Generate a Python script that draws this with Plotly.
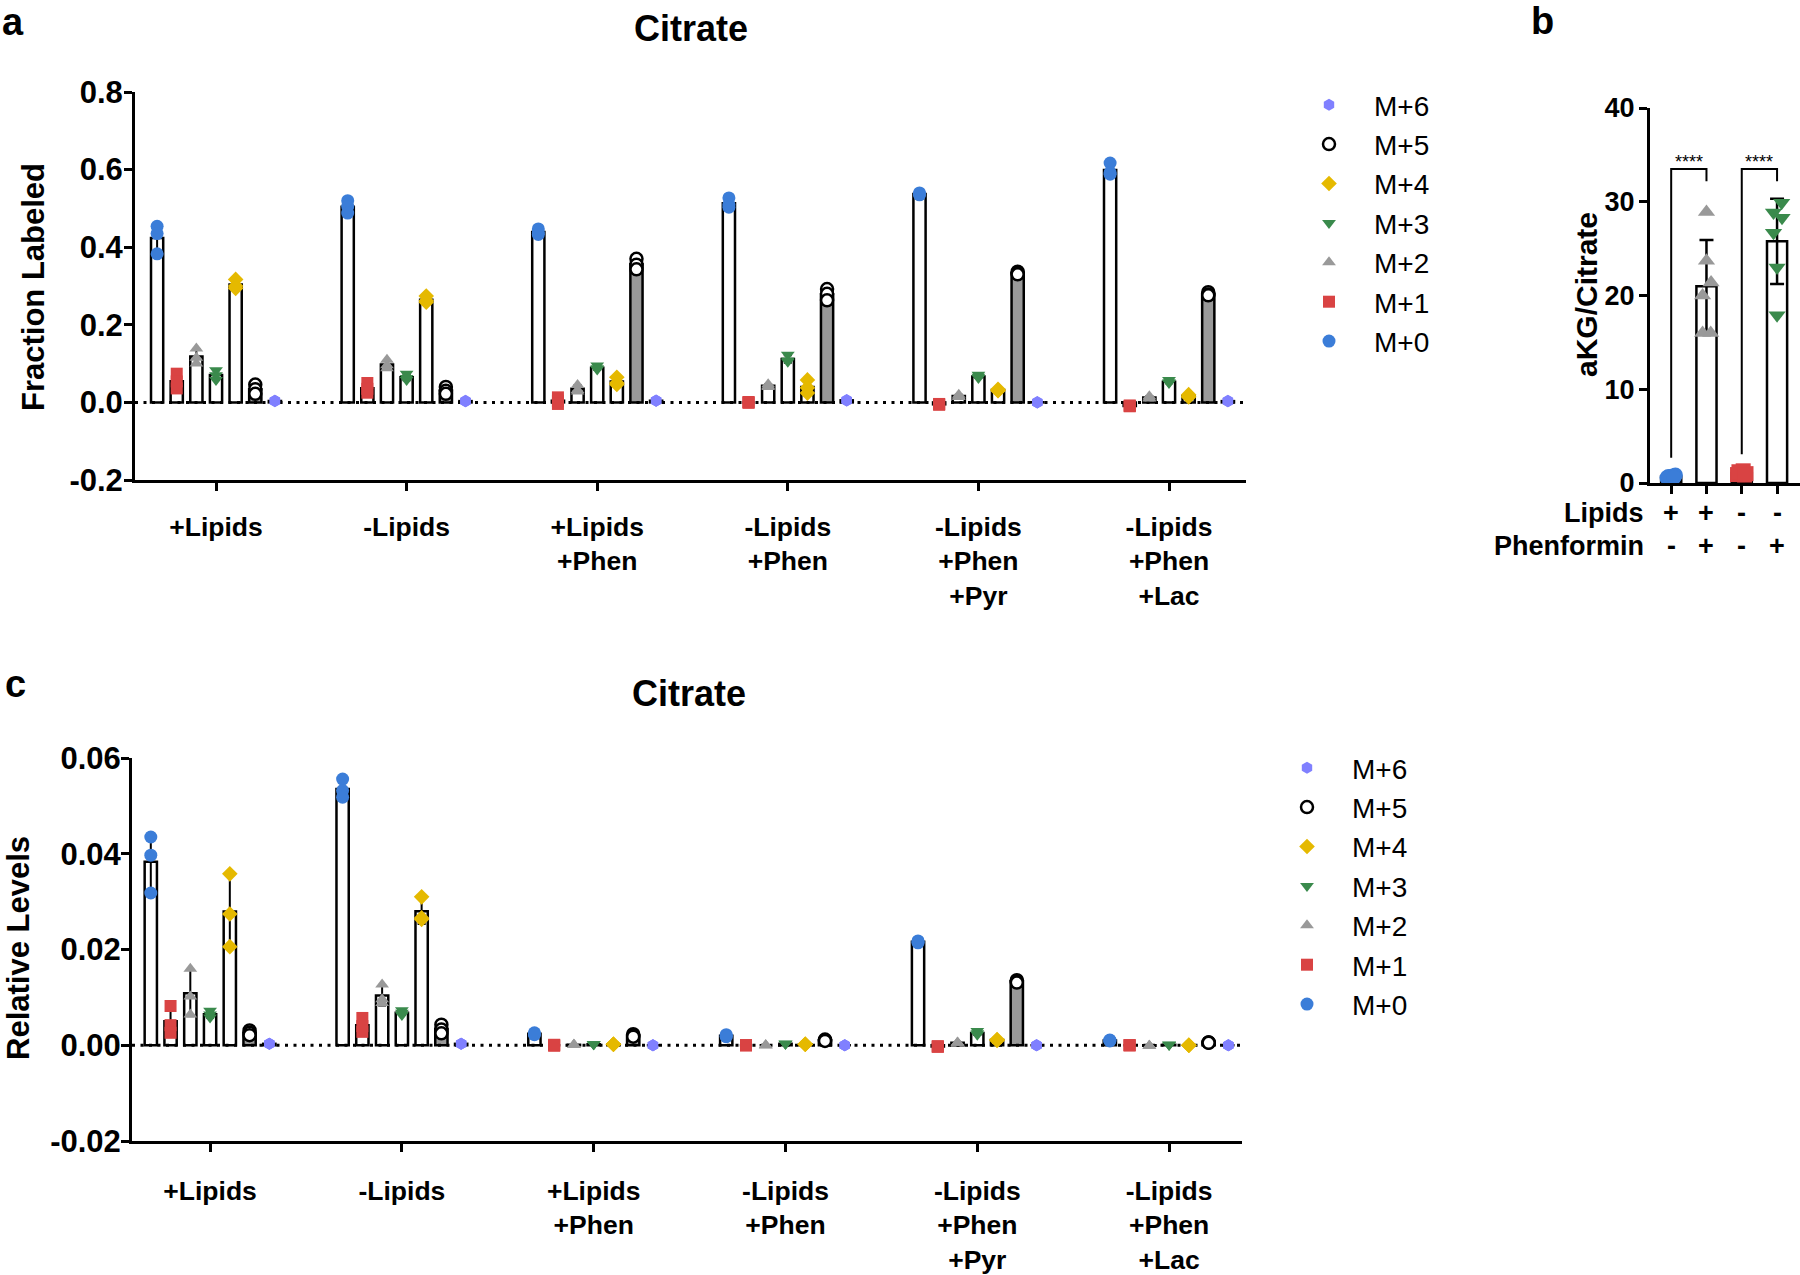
import numpy as np
import plotly.graph_objects as go

W, H = 1800, 1275

# ---------------- data ----------------
isotopologues = ["M+0", "M+1", "M+2", "M+3", "M+4", "M+5", "M+6"]
conditions = ["+Lipids", "-Lipids", "+Lipids<br>+Phen", "-Lipids<br>+Phen",
              "-Lipids<br>+Phen<br>+Pyr", "-Lipids<br>+Phen<br>+Lac"]

# Panel a: fraction labeled, 3 replicates per condition
frac_m0 = [[0.454, 0.435, 0.383], [0.520, 0.505, 0.488], [0.447, 0.437, 0.433],
           [0.527, 0.510, 0.503], [0.540, 0.537, 0.535], [0.617, 0.592, 0.588]]
frac_m1 = [[0.074, 0.054, 0.036], [0.050, 0.035, 0.025], [0.013, 0.004, -0.004],
           [0.001, -0.001, 0.000], [-0.004, -0.006, -0.005], [-0.008, -0.010, -0.009]]
frac_m2 = [[0.139, 0.115, 0.100], [0.110, 0.096, 0.088], [0.045, 0.032, 0.028],
           [0.047, 0.042, 0.040], [0.020, 0.016, 0.014], [0.016, 0.012, 0.010]]
frac_m3 = [[0.083, 0.070, 0.058], [0.074, 0.063, 0.058], [0.095, 0.088, 0.085],
           [0.123, 0.108, 0.105], [0.071, 0.066, 0.063], [0.058, 0.052, 0.050]]
frac_m4 = [[0.317, 0.300, 0.294], [0.274, 0.262, 0.258], [0.065, 0.050, 0.046],
           [0.058, 0.038, 0.024], [0.034, 0.031, 0.030], [0.020, 0.016, 0.014]]
frac_m5 = [[0.046, 0.034, 0.022], [0.040, 0.030, 0.022], [0.370, 0.355, 0.343],
           [0.292, 0.280, 0.263], [0.337, 0.333, 0.330], [0.284, 0.278, 0.276]]
frac_m6 = [[0.004, 0.003, 0.004], [0.003, 0.003, 0.004], [0.005, 0.004, 0.004],
           [0.006, 0.005, 0.005], [0.000, 0.000, 0.001], [0.003, 0.003, 0.004]]

# Panel c: relative levels
rel_m0 = [[0.0435, 0.0397, 0.0318], [0.0556, 0.0532, 0.0518], [0.0026, 0.0024, 0.0022],
          [0.0022, 0.0019, 0.0018], [0.0218, 0.0216, 0.0214], [0.0011, 0.0010, 0.0009]]
rel_m1 = [[0.0082, 0.0042, 0.0026], [0.0057, 0.0040, 0.0028], [0.0001, 0.0000, -0.0001],
          [0.0000, 0.0000, 0.0000], [-0.0003, -0.0003, -0.0002], [0.0000, 0.0000, 0.0000]]
rel_m2 = [[0.0160, 0.0102, 0.0064], [0.0127, 0.0096, 0.0088], [0.0001, 0.0001, 0.0001],
          [0.0000, 0.0000, 0.0000], [0.0006, 0.0005, 0.0005], [-0.0001, -0.0001, -0.0001]]
rel_m3 = [[0.0072, 0.0064, 0.0058], [0.0073, 0.0068, 0.0063], [0.0002, 0.0002, 0.0002],
          [0.0003, 0.0003, 0.0003], [0.0030, 0.0025, 0.0022], [0.0001, 0.0001, 0.0001]]
rel_m4 = [[0.0358, 0.0274, 0.0206], [0.0310, 0.0266, 0.0263], [0.0002, 0.0002, 0.0002],
          [0.0002, 0.0002, 0.0002], [0.0012, 0.0011, 0.0010], [0.0000, 0.0000, 0.0000]]
rel_m5 = [[0.0031, 0.0026, 0.0021], [0.0043, 0.0033, 0.0025], [0.0023, 0.0020, 0.0018],
          [0.0012, 0.0010, 0.0009], [0.0136, 0.0134, 0.0131], [0.0006, 0.0006, 0.0005]]
rel_m6 = [[0.0003, 0.0003, 0.0003], [0.0003, 0.0003, 0.0003], [0.0000, 0.0000, 0.0000],
          [0.0000, 0.0000, 0.0000], [0.0000, 0.0000, 0.0000], [0.0000, 0.0000, 0.0000]]

# Panel b: aKG/Citrate ratio, 6 replicates per group
b_lipids = ["+", "+", "-", "-"]
b_phen = ["-", "+", "-", "+"]
b_values = [[0.55, 0.65, 0.75, 0.85, 0.70, 0.60],
            [28.9, 23.7, 21.4, 20.0, 16.0, 16.0],
            [0.90, 1.10, 1.30, 1.00, 1.20, 0.85],
            [29.9, 28.85, 28.3, 26.7, 23.0, 17.9]]
b_jitter = [[-0.12, -0.04, 0.04, 0.12, -0.08, 0.08],
            [0.0, 0.0, 0.13, -0.11, -0.11, 0.12],
            [-0.12, -0.04, 0.04, 0.12, -0.08, 0.08],
            [0.13, -0.10, 0.14, -0.10, 0.0, 0.0]]
b_sig = ["****", "****"]

# tick labels
frac_ticks = [-0.2, 0.0, 0.2, 0.4, 0.6, 0.8]
frac_ticklabels = ["-0.2", "0.0", "0.2", "0.4", "0.6", "0.8"]
rel_ticks = [-0.02, 0.0, 0.02, 0.04, 0.06]
rel_ticklabels = ["-0.02", "0.00", "0.02", "0.04", "0.06"]
ratio_ticks = [0, 10, 20, 30, 40]

frac_all = [frac_m0, frac_m1, frac_m2, frac_m3, frac_m4, frac_m5, frac_m6]
rel_all = [rel_m0, rel_m1, rel_m2, rel_m3, rel_m4, rel_m5, rel_m6]

# ---------------- style ----------------
colors = ["#3b7dd8", "#d94343", "#999999", "#3a8a4c", "#e5b900", "#ffffff", "#8080ff"]
symbols = ["circle", "square", "triangle-up", "triangle-down", "diamond", "circle", "hexagon"]
sizes = [13, 12, 12, 12, 12, 12, 12]
bar_fill = ["white", "white", "white", "white", "white", "#999999", "white"]
FONT = "Liberation Sans, Arial, Helvetica, sans-serif"
SPACING = 0.103
BARW = 0.064


def px_x(p):
    return p / W


def px_y(p):
    return 1 - p / H


fig = go.Figure()


def add_isotope_panel(data_all, xa, ya, legend_name, xrange_):
    for k in range(7):
        arr = np.array(data_all[k], dtype=float)
        xs = np.arange(len(conditions)) + (k - 3) * SPACING
        fig.add_trace(go.Bar(
            x=xs, y=arr.mean(axis=1), width=BARW,
            marker=dict(color=bar_fill[k], line=dict(color="black", width=2.5)),
            error_y=dict(type="data", array=arr.std(axis=1, ddof=1), color="black",
                         thickness=2, width=4),
            xaxis=xa, yaxis=ya, showlegend=False, hoverinfo="skip"))
    fig.add_trace(go.Scatter(
        x=list(xrange_), y=[0, 0], mode="lines",
        line=dict(color="black", width=3, dash="3px,5.5px"),
        xaxis=xa, yaxis=ya, showlegend=False, hoverinfo="skip"))
    for k in range(7):
        arr = np.array(data_all[k], dtype=float)
        xs = np.repeat(np.arange(len(conditions)) + (k - 3) * SPACING, arr.shape[1])
        line = dict(color="black", width=2.5) if k == 5 else dict(width=0)
        fig.add_trace(go.Scatter(
            x=xs, y=arr.flatten(), mode="markers", name=isotopologues[k],
            marker=dict(color=colors[k], symbol=symbols[k], size=sizes[k], line=line),
            xaxis=xa, yaxis=ya, legend=legend_name, cliponaxis=False))


xr_a = (-0.425, 5.404)
xr_c = (-0.407, 5.38)
add_isotope_panel(frac_all, "x", "y", "legend", xr_a)
add_isotope_panel(rel_all, "x3", "y3", "legend2", xr_c)

# Panel b
b_means = [float(np.mean(v)) for v in b_values]
b_sd = [float(np.std(v, ddof=1)) for v in b_values]
fig.add_trace(go.Bar(
    x=list(range(4)), y=b_means, width=0.57,
    marker=dict(color="white", line=dict(color="black", width=2.5)),
    error_y=dict(type="data", array=b_sd, color="black", thickness=2.5, width=7),
    xaxis="x2", yaxis="y2", showlegend=False, hoverinfo="skip"))
b_colors = [colors[0], colors[2], colors[1], colors[3]]
b_symbols = [symbols[0], symbols[2], symbols[1], symbols[3]]
for i in range(4):
    fig.add_trace(go.Scatter(
        x=[i + j for j in b_jitter[i]], y=b_values[i], mode="markers",
        marker=dict(color=b_colors[i], symbol=b_symbols[i], size=15, line=dict(width=0)),
        xaxis="x2", yaxis="y2", showlegend=False, cliponaxis=False))

for n, (i0, i1) in enumerate([(0, 1), (2, 3)]):
    top = 33.5
    fig.add_trace(go.Scatter(
        x=[i0, i0, i1, i1], y=[b_means[i0] + 2.0, top, top, top - 1.3],
        mode="lines", line=dict(color="black", width=2),
        xaxis="x2", yaxis="y2", showlegend=False, hoverinfo="skip"))

axis_common = dict(showline=True, linecolor="black", linewidth=3, ticks="outside",
                   ticklen=8, tickwidth=3, tickcolor="black", showgrid=False,
                   zeroline=False, fixedrange=True, automargin=False)
tick_font = dict(family=FONT, size=31, color="black", weight="bold")
tick_font_b = dict(family=FONT, size=27, color="black", weight="bold")
cat_font = dict(family=FONT, size=26.5, color="black", weight="bold")

fig.update_layout(
    template="none",
    width=W, height=H, margin=dict(l=0, r=0, t=0, b=0, pad=0, autoexpand=False),
    paper_bgcolor="white", plot_bgcolor="white", barmode="overlay",
    font=dict(family=FONT, color="black"),
    xaxis=dict(domain=[px_x(135), px_x(1246)], range=list(xr_a), anchor="y",
               tickvals=list(range(6)), ticktext=conditions, tickfont=cat_font,
               ticklabelstandoff=13, **axis_common),
    yaxis=dict(domain=[px_y(480), px_y(92)], range=[-0.2, 0.8], anchor="x",
               tickvals=frac_ticks, ticktext=frac_ticklabels,
               tickfont=tick_font, ticklabelstandoff=-5, **axis_common),
    xaxis2=dict(domain=[px_x(1650), 1.0], range=[-0.6, 3.65], anchor="y2",
                tickvals=list(range(4)), showticklabels=False, **axis_common),
    yaxis2=dict(domain=[px_y(483), px_y(108)], range=[0, 40], anchor="x2",
                tickvals=ratio_ticks, tickfont=tick_font_b, ticklabelstandoff=-1,
                **axis_common),
    xaxis3=dict(domain=[px_x(132), px_x(1242)], range=list(xr_c), anchor="y3",
                tickvals=list(range(6)), ticktext=conditions, tickfont=cat_font,
                ticklabelstandoff=16, **axis_common),
    yaxis3=dict(domain=[px_y(1141), px_y(758)], range=[-0.02, 0.06], anchor="x3",
                tickvals=rel_ticks, ticktext=rel_ticklabels,
                tickfont=tick_font, ticklabelstandoff=-6, **axis_common),
    legend=dict(x=px_x(1284), y=px_y(80), xanchor="left", yanchor="top",
                traceorder="reversed", itemwidth=80, bgcolor="rgba(0,0,0,0)",
                font=dict(family=FONT, size=28, color="black"), itemclick=False),
    legend2=dict(x=px_x(1262), y=px_y(743), xanchor="left", yanchor="top",
                 traceorder="reversed", itemwidth=80, bgcolor="rgba(0,0,0,0)",
                 font=dict(family=FONT, size=28, color="black"), itemclick=False),
)

ann = []


def text(x, y, s, size, bold=True, xanchor="center", yanchor="middle", angle=0,
         xref="paper"):
    ann.append(dict(x=px_x(x) if xref == "paper" else x, y=px_y(y), xref=xref,
                    yref="paper", text=s, showarrow=False, xanchor=xanchor,
                    yanchor=yanchor, textangle=angle,
                    font=dict(family=FONT, size=size, color="black",
                              weight="bold" if bold else "normal")))


text(13, 22, "a", 38)
text(1542, 21, "b", 38)
text(15, 684, "c", 38)
text(691, 29, "Citrate", 36)
text(689, 693, "Citrate", 36)
text(33, 287, "Fraction Labeled", 31, angle=-90)
text(18, 948, "Relative Levels", 31, angle=-90)
text(1586, 295, "aKG/Citrate", 30, angle=-90)
text(1646, 513, "Lipids", 27, xanchor="right")
text(1646, 546, "Phenformin", 27, xanchor="right")
for i in range(4):
    text(i, 513, b_lipids[i], 27, xref="x2")
    text(i, 546, b_phen[i], 27, xref="x2")
fig.update_layout(annotations=ann)

for n, (i0, i1) in enumerate([(0, 1), (2, 3)]):
    fig.add_annotation(x=(i0 + i1) / 2, y=33.0, xref="x2", yref="y2", text=b_sig[n],
                       showarrow=False, yanchor="bottom",
                       font=dict(family=FONT, size=18, color="black"))

fig.write_html("out.html", config={"displayModeBar": False},
               post_script="document.body.style.margin='0px';document.body.style.overflow='hidden';")
